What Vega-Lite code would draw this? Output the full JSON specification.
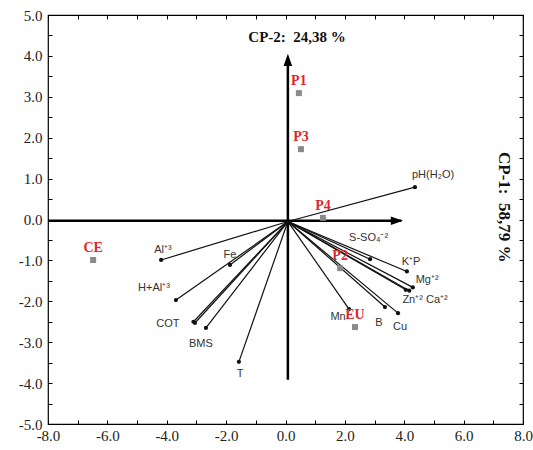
{
  "$schema": "https://vega.github.io/schema/vega-lite/v6.json",
  "width": 475,
  "height": 409,
  "autosize": {"type": "none"},
  "padding": {"left": 48, "top": 15, "right": 10, "bottom": 26},
  "background": "white",
  "config": {"view": {"stroke": "black", "strokeWidth": 1.2}},
  "datasets": {
    "vec": [
      {"name": "pH(H₂O)", "x0": 0.08, "y0": -0.05, "x": 4.36, "y": 0.79, "lx": 4.97, "ly": 1.09},
      {"name": "S-SO₄⁻²", "x0": 0.08, "y0": -0.05, "x": 2.85, "y": -0.97, "lx": 2.8, "ly": -0.45},
      {"name": "K⁺P", "x0": 0.08, "y0": -0.05, "x": 4.09, "y": -1.27, "lx": 4.23, "ly": -1.04},
      {"name": "Mg⁺²", "x0": 0.08, "y0": -0.05, "x": 4.29, "y": -1.66, "lx": 4.77, "ly": -1.48},
      {"name": "Zn⁺² Ca⁺²", "x0": 0.08, "y0": -0.05, "x": 4.17, "y": -1.74, "lx": 4.7, "ly": -1.97},
      {"name": "", "x0": 0.08, "y0": -0.05, "x": 4.05, "y": -1.72, "lx": 4.05, "ly": -1.72},
      {"name": "Mn", "x0": 0.08, "y0": -0.05, "x": 2.14, "y": -2.19, "lx": 1.77, "ly": -2.38},
      {"name": "B", "x0": 0.08, "y0": -0.05, "x": 3.35, "y": -2.14, "lx": 3.15, "ly": -2.53},
      {"name": "Cu", "x0": 0.08, "y0": -0.05, "x": 3.79, "y": -2.29, "lx": 3.86, "ly": -2.63},
      {"name": "Al⁺³", "x0": 0.08, "y0": -0.05, "x": -4.19, "y": -0.99, "lx": -4.13, "ly": -0.75},
      {"name": "Fe", "x0": 0.08, "y0": -0.05, "x": -1.87, "y": -1.11, "lx": -1.87, "ly": -0.87},
      {"name": "H+Al⁺³", "x0": 0.08, "y0": -0.05, "x": -3.69, "y": -1.97, "lx": -4.43, "ly": -1.67},
      {"name": "COT", "x0": 0.08, "y0": -0.05, "x": -3.05, "y": -2.53, "lx": -3.96, "ly": -2.56},
      {"name": "", "x0": 0.08, "y0": -0.05, "x": -3.1, "y": -2.5, "lx": -3.1, "ly": -2.5},
      {"name": "BMS", "x0": 0.08, "y0": -0.05, "x": -2.68, "y": -2.65, "lx": -2.85, "ly": -3.04},
      {"name": "T", "x0": 0.08, "y0": -0.05, "x": -1.57, "y": -3.48, "lx": -1.53, "ly": -3.78}
    ],
    "pts": [
      {"name": "P1", "x": 0.45, "y": 3.09},
      {"name": "P3", "x": 0.52, "y": 1.72},
      {"name": "P4", "x": 1.26, "y": 0.04},
      {"name": "P2", "x": 1.84, "y": -1.19},
      {"name": "EU", "x": 2.34, "y": -2.63},
      {"name": "CE", "x": -6.48, "y": -0.99}
    ],
    "axlines": [
      {"x1": -8, "y1": -0.03, "x2": 3.9, "y2": -0.03},
      {"x1": 0.08, "y1": -3.92, "x2": 0.08, "y2": 3.95}
    ],
    "heads": [
      {"kind": "h", "x": 3.96, "y": -0.03},
      {"kind": "v", "x": 0.08, "y": 4.05}
    ],
    "titles": [
      {"t": "CP-2:\u00a0\u00a024,38 %", "x": 0.39, "y": 4.46, "a": 0, "s": 15},
      {"t": "CP-1:\u00a0\u00a058,79 %", "x": 7.35, "y": 0.3, "a": 90, "s": 17}
    ]
  },
  "resolve": {"axis": {"x": "independent", "y": "independent"}},
  "layer": [
    {
      "data": {"name": "axlines"},
      "mark": {"type": "rule", "color": "black", "strokeWidth": 2.5},
      "encoding": {
        "x": {"field": "x1", "type": "quantitative", "scale": {"domain": [-8, 8], "nice": false, "zero": false},
          "axis": {"orient": "bottom", "values": [-8,-7,-6,-5,-4,-3,-2,-1,0,1,2,3,4,5,6,7,8],
            "labelExpr": "datum.value % 2 == 0 ? replace(format(datum.value, '.1f'), '\u2212', '-') : ''",
            "title": null, "domain": false, "grid": false, "tickSize": -4, "tickColor": "black",
            "labelFont": "Liberation Serif", "labelFontSize": 15, "labelColor": "#222", "labelPadding": 8, "labelFlush": false}},
        "y": {"field": "y1", "type": "quantitative", "scale": {"domain": [-5, 5], "nice": false, "zero": false},
          "axis": {"orient": "left", "values": [-5,-4.5,-4,-3.5,-3,-2.5,-2,-1.5,-1,-0.5,0,0.5,1,1.5,2,2.5,3,3.5,4,4.5,5],
            "labelExpr": "datum.value % 1 == 0 ? replace(format(datum.value, '.1f'), '\u2212', '-') : ''",
            "title": null, "domain": false, "grid": false, "tickSize": -4, "tickColor": "black",
            "labelFont": "Liberation Serif", "labelFontSize": 15, "labelColor": "#222", "labelPadding": 10, "labelFlush": false}},
        "x2": {"field": "x2"},
        "y2": {"field": "y2"}
      }
    },
    {
      "data": {"name": "heads"},
      "mark": {"type": "point", "filled": true, "color": "black", "opacity": 1, "size": 150, "strokeWidth": 0},
      "encoding": {
        "x": {"field": "x", "type": "quantitative", "scale": {"domain": [-8, 8], "nice": false, "zero": false},
          "axis": {"orient": "top", "values": [-8,-7,-6,-5,-4,-3,-2,-1,0,1,2,3,4,5,6,7,8], "labels": false,
            "title": null, "domain": false, "grid": false, "tickSize": -4, "tickColor": "black"}},
        "y": {"field": "y", "type": "quantitative", "scale": {"domain": [-5, 5], "nice": false, "zero": false},
          "axis": {"orient": "right", "values": [-5,-4.5,-4,-3.5,-3,-2.5,-2,-1.5,-1,-0.5,0,0.5,1,1.5,2,2.5,3,3.5,4,4.5,5], "labels": false,
            "title": null, "domain": false, "grid": false, "tickSize": -4, "tickColor": "black"}},
        "shape": {"field": "kind", "type": "nominal", "scale": {"domain": ["h", "v"], "range": ["M0,0L-2,-0.7L-2,0.7Z", "M0,0L-0.7,2L0.7,2Z"]}, "legend": null}
      }
    },
    {
      "data": {"name": "vec"},
      "mark": {"type": "rule", "color": "#111", "strokeWidth": 1.2},
      "encoding": {
        "x": {"field": "x0", "type": "quantitative", "axis": null},
        "y": {"field": "y0", "type": "quantitative", "axis": null},
        "x2": {"field": "x"},
        "y2": {"field": "y"}
      }
    },
    {
      "data": {"name": "vec"},
      "mark": {"type": "point", "filled": true, "color": "#111", "opacity": 1, "size": 18},
      "encoding": {
        "x": {"field": "x", "type": "quantitative", "axis": null},
        "y": {"field": "y", "type": "quantitative", "axis": null}
      }
    },
    {
      "data": {"name": "vec"},
      "mark": {"type": "text", "font": "Liberation Sans", "fontSize": 11, "color": "#333", "align": "center", "baseline": "middle"},
      "encoding": {
        "x": {"field": "lx", "type": "quantitative", "axis": null},
        "y": {"field": "ly", "type": "quantitative", "axis": null},
        "text": {"field": "name"}
      }
    },
    {
      "data": {"name": "pts"},
      "mark": {"type": "point", "shape": "square", "filled": true, "color": "#8a8a8a", "opacity": 1, "size": 36},
      "encoding": {
        "x": {"field": "x", "type": "quantitative", "axis": null},
        "y": {"field": "y", "type": "quantitative", "axis": null}
      }
    },
    {
      "data": {"name": "pts"},
      "mark": {"type": "text", "font": "Liberation Serif", "fontSize": 14, "fontWeight": "bold", "color": "#e0262c", "align": "center", "baseline": "middle", "dy": -12},
      "encoding": {
        "x": {"field": "x", "type": "quantitative", "axis": null},
        "y": {"field": "y", "type": "quantitative", "axis": null},
        "text": {"field": "name"}
      }
    },
    {
      "data": {"name": "titles"},
      "mark": {"type": "text", "font": "Liberation Serif", "fontWeight": "bold", "color": "#111", "align": "center", "baseline": "middle"},
      "encoding": {
        "x": {"field": "x", "type": "quantitative", "axis": null},
        "y": {"field": "y", "type": "quantitative", "axis": null},
        "angle": {"field": "a", "type": "quantitative", "scale": null},
        "size": {"field": "s", "type": "quantitative", "scale": null},
        "text": {"field": "t"}
      }
    }
  ]
}
